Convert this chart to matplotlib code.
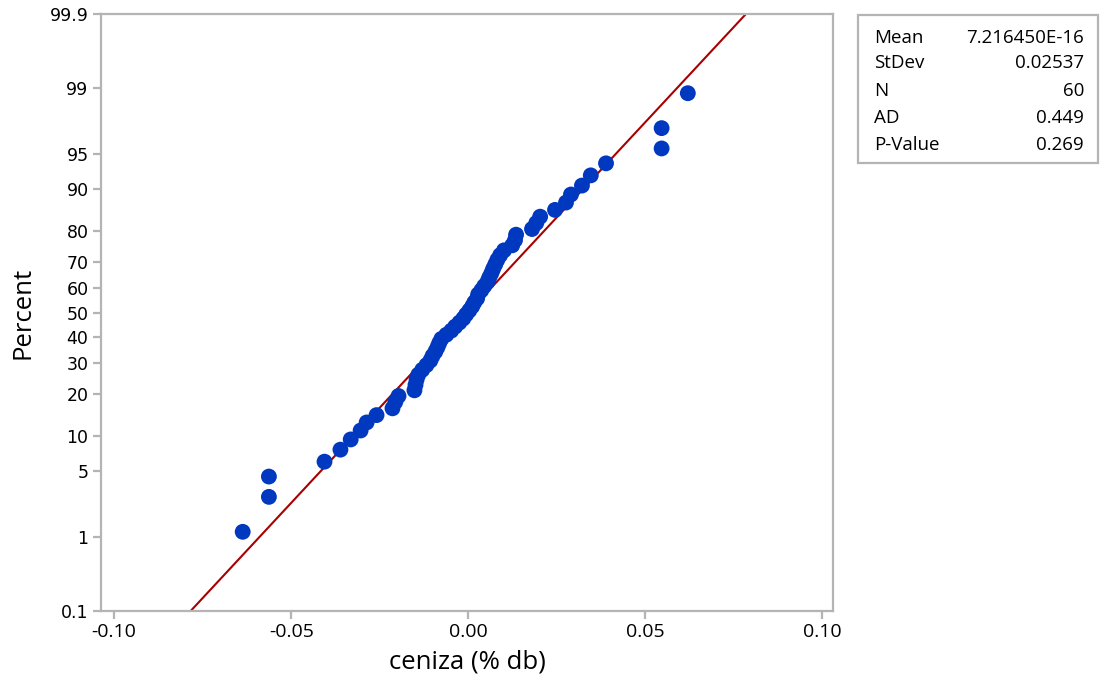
import numpy as np
import matplotlib
matplotlib.use("Agg")
import matplotlib.pyplot as plt
from matplotlib.patches import Rectangle
from statistics import NormalDist

# datos (ceniza, % db), ordenados
ceniza = [-0.0637, -0.0563, -0.0563, -0.0406, -0.0361, -0.0332, -0.0304, -0.0287, -0.0259, -0.0214,
          -0.0206, -0.0197, -0.0152, -0.0149, -0.0146, -0.0141, -0.0130, -0.0118, -0.0107, -0.0101,
          -0.0093, -0.0087, -0.0082, -0.0076, -0.0062, -0.0048, -0.0037, -0.0025, -0.0014, -0.0006,
          0.0003, 0.0011, 0.0017, 0.0025, 0.0028, 0.0037, 0.0045, 0.0054, 0.0059, 0.0065,
          0.0070, 0.0076, 0.0082, 0.0090, 0.0101, 0.0124, 0.0132, 0.0135, 0.0180, 0.0192,
          0.0203, 0.0245, 0.0276, 0.0290, 0.0321, 0.0346, 0.0389, 0.0546, 0.0546, 0.0620]

stat_labels = ["Mean", "StDev", "N", "AD", "P-Value"]
stat_values = ["7.216450E-16", "0.02537", "60", "0.449", "0.269"]
media = 7.216450e-16
desv = 0.02537

y_ticks = [0.1, 1, 5, 10, 20, 30, 40, 50, 60, 70, 80, 90, 95, 99, 99.9]
x_ticks = [-0.10, -0.05, 0.00, 0.05, 0.10]

nd = NormalDist()
_inv = np.vectorize(lambda p: nd.inv_cdf(min(max(p / 100.0, 1e-9), 1 - 1e-9)), otypes=[float])
_cdf = np.vectorize(lambda z: nd.cdf(z) * 100.0, otypes=[float])

def fwd(p):
    return _inv(np.asarray(p, dtype=float))

def inv(z):
    return _cdf(np.asarray(z, dtype=float))

# posiciones de rango (Minitab: (i-0.3)/(n+0.4))
n = len(ceniza)
rank = np.arange(1, n + 1)
pct = (rank - 0.3) / (n + 0.4) * 100

fig = plt.figure(figsize=(11.02, 6.91), dpi=100)
ax = fig.add_axes([0.0917, 0.1158, 0.6642, 0.8639])
ax.set_yscale("function", functions=(fwd, inv))

# linea de ajuste normal
p_line = [0.1, 99.9]
x_line = [media + desv * nd.inv_cdf(p / 100) for p in p_line]
ax.plot(x_line, p_line, color="#a80000", lw=1.5, zorder=2)

ax.scatter(ceniza, pct, s=130, color="#0038c0", edgecolors="none", zorder=3)

ax.set_xlim(-0.1037, 0.1030)
ax.set_ylim(0.1, 99.9)
ax.set_yticks(y_ticks)
ax.set_yticklabels([f"{t:g}" for t in y_ticks], fontfamily="DejaVu Sans", fontsize=12.5)
ax.yaxis.set_minor_locator(matplotlib.ticker.NullLocator())
ax.set_xticks(x_ticks)
ax.set_xticklabels([f"{t:.2f}" for t in x_ticks], fontfamily="Open Sans", fontsize=14)

for s in ax.spines.values():
    s.set_color("#b4b4b4")
    s.set_linewidth(1.6)
ax.tick_params(axis="both", direction="out", length=6, width=1.6, color="#b4b4b4",
               labelcolor="black", pad=3)

ax.set_xlabel("ceniza (% db)", fontfamily="Open Sans", fontsize=18.5, labelpad=6)
ax.set_ylabel("Percent", fontfamily="Open Sans", fontsize=18.5, labelpad=10)

# cuadro de estadisticos
fig.patches.append(Rectangle((858 / 1102, 1 - 163 / 691), 240 / 1102, 148 / 691,
                             transform=fig.transFigure, fill=False,
                             edgecolor="#b4b4b4", lw=1.6))
rows_y = [38, 63, 91, 118, 145]
for lab, val, yy in zip(stat_labels, stat_values, rows_y):
    fig.text(874 / 1102, 1 - yy / 691, lab, ha="left", va="center",
             fontfamily="Open Sans", fontsize=13.5)
    fig.text(1084 / 1102, 1 - yy / 691, val, ha="right", va="center",
             fontfamily="Open Sans", fontsize=13.5)

fig.savefig("out.png", dpi=100)
